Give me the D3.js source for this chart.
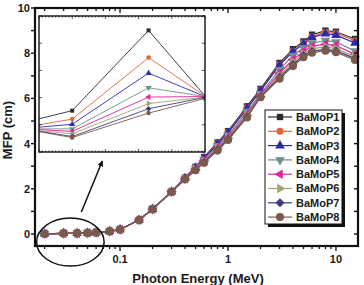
<!DOCTYPE html>
<html>
<head>
<meta charset="utf-8">
<script src="https://cdn.jsdelivr.net/npm/d3@7"></script>
<style>
body { margin: 0; background: #fff; }
text { font-family: "Liberation Sans", Arial, sans-serif; font-weight: bold; fill: #1a1a1a; }
</style>
</head>
<body>
<div id="chart"></div>
<script>
// photon energies (MeV)
var energies = [0.02, 0.03, 0.04, 0.05, 0.06, 0.08, 0.1, 0.15, 0.2, 0.3, 0.4, 0.5, 0.6, 0.8, 1, 1.5, 2, 3, 4, 5, 6, 8, 10, 15];

var names = ["BaMoP1", "BaMoP2", "BaMoP3", "BaMoP4", "BaMoP5", "BaMoP6", "BaMoP7", "BaMoP8"];
var colors = ["#2b2b2b", "#e0643c", "#2a2ab5", "#6f8f8f", "#e0259a", "#a3a374", "#3e3e7c", "#7b5a4c"];

// MFP (cm) for each glass
var mfpP1 = [0.01, 0.03, 0.03, 0.05, 0.07, 0.12, 0.2, 0.62, 1.1, 1.87, 2.5, 2.97, 3.4, 4.05, 4.55, 5.65, 6.42, 7.57, 8.18, 8.52, 8.82, 9.0, 8.95, 8.63];
var mfpP2 = [0.01, 0.03, 0.03, 0.05, 0.07, 0.12, 0.2, 0.62, 1.1, 1.87, 2.48, 2.94, 3.36, 4.0, 4.5, 5.58, 6.36, 7.5, 8.1, 8.45, 8.74, 8.92, 8.88, 8.55];
var mfpP3 = [0.01, 0.03, 0.03, 0.05, 0.07, 0.12, 0.2, 0.62, 1.1, 1.87, 2.47, 2.93, 3.35, 3.98, 4.48, 5.55, 6.33, 7.47, 8.07, 8.41, 8.7, 8.86, 8.8, 8.45];
var mfpP4 = [0.01, 0.03, 0.03, 0.05, 0.07, 0.12, 0.2, 0.62, 1.1, 1.87, 2.46, 2.9, 3.3, 3.9, 4.38, 5.42, 6.2, 7.27, 7.9, 8.24, 8.45, 8.56, 8.5, 8.1];
var mfpP5 = [0.01, 0.03, 0.03, 0.05, 0.07, 0.12, 0.2, 0.62, 1.1, 1.87, 2.45, 2.88, 3.26, 3.84, 4.3, 5.32, 6.14, 7.12, 7.72, 8.08, 8.3, 8.4, 8.34, 7.95];
var mfpP6 = [0.01, 0.03, 0.03, 0.05, 0.07, 0.12, 0.2, 0.62, 1.1, 1.87, 2.44, 2.86, 3.22, 3.8, 4.25, 5.26, 6.1, 7.0, 7.62, 7.98, 8.2, 8.28, 8.2, 7.85];
var mfpP7 = [0.01, 0.03, 0.03, 0.05, 0.07, 0.12, 0.2, 0.62, 1.1, 1.87, 2.43, 2.84, 3.18, 3.74, 4.2, 5.2, 6.07, 6.93, 7.5, 7.9, 8.08, 8.18, 8.1, 7.77];
var mfpP8 = [0.01, 0.03, 0.03, 0.05, 0.07, 0.12, 0.2, 0.62, 1.1, 1.87, 2.42, 2.82, 3.15, 3.69, 4.16, 5.16, 6.05, 6.87, 7.43, 7.82, 8.02, 8.11, 8.04, 7.7];

// zoomed low-energy region (inset), own units
var insetX = [20, 30, 53, 70];
var insetP1 = [1.22, 1.52, 4.47, 2.06];
var insetP2 = [1.0, 1.21, 3.47, 2.06];
var insetP3 = [0.91, 1.02, 2.9, 2.04];
var insetP4 = [0.85, 0.85, 2.36, 2.04];
var insetP5 = [0.82, 0.76, 2.02, 2.04];
var insetP6 = [0.78, 0.67, 1.78, 2.02];
var insetP7 = [0.76, 0.57, 1.59, 2.01];
var insetP8 = [0.75, 0.53, 1.43, 1.97];

var yTicks = [0, 2, 4, 6, 8, 10];
var xTickLabels = [0.1, 1, 10];

var mainSeries = [mfpP1, mfpP2, mfpP3, mfpP4, mfpP5, mfpP6, mfpP7, mfpP8];
var insetSeries = [insetP1, insetP2, insetP3, insetP4, insetP5, insetP6, insetP7, insetP8];

var width = 364, height = 285;
var pLeft = 35, pRight = 358, pTop = 8, pBottom = 246;

var svg = d3.select("#chart").append("svg")
		.attr("width", width)
		.attr("height", height);

var x = d3.scaleLog().domain([0.0163, 16]).range([pLeft, pRight]);
var y = d3.scaleLinear().domain([-0.53, 10]).range([pBottom, pTop]);

// marker shapes: square, circle, tri up, tri down, tri left, tri right, diamond, circle
function symbolFor(i, size) {
	var types = [d3.symbolSquare, d3.symbolCircle, d3.symbolTriangle, d3.symbolTriangle,
		d3.symbolTriangle, d3.symbolTriangle, d3.symbolSquare, d3.symbolCircle];
	var rot = [0, 0, 0, 180, -90, 90, 45, 0];
	return { d: d3.symbol().type(types[i]).size(size)(), rot: rot[i] };
}

var line = d3.line()
		.x(function(d) { return x(d[0]); })
		.y(function(d) { return y(d[1]); });

// main curves
mainSeries.forEach(function(vals, i) {
	var pts = energies.map(function(e, j) { return [e, vals[j]]; });
	svg.append("path")
			.attr("d", line(pts))
			.attr("fill", "none")
			.attr("stroke", colors[i])
			.attr("stroke-width", 1.2);
	var s = symbolFor(i, i == 7 ? 52 : 40);
	svg.selectAll(null)
			.data(pts)
			.enter().append("path")
			.attr("d", s.d)
			.attr("transform", function(d) { return "translate(" + x(d[0]) + "," + y(d[1]) + ") rotate(" + s.rot + ")"; })
			.attr("fill", colors[i]);
});

// main frame + ticks
var minorX = [];
[0.01, 0.1, 1, 10].forEach(function(dec) {
	for (var k = 1; k <= 9; k++) {
		var v = k * dec;
		if (v >= x.domain()[0] && v <= x.domain()[1]) minorX.push(v);
	}
});
var isMajor = function(v) { return xTickLabels.some(function(t) { return Math.abs(t - v) < 1e-9; }); };

var ax = svg.append("g").attr("stroke", "#111").attr("fill", "none");
minorX.forEach(function(v) {
	var len = isMajor(v) ? 5 : 3;
	ax.append("line").attr("x1", x(v)).attr("x2", x(v)).attr("y1", pBottom).attr("y2", pBottom + len).attr("stroke-width", 1.3);
	ax.append("line").attr("x1", x(v)).attr("x2", x(v)).attr("y1", pTop).attr("y2", pTop + len).attr("stroke-width", 1.3);
});
d3.range(0, 11).forEach(function(v) {
	ax.append("line").attr("x1", pLeft - 4).attr("x2", pLeft).attr("y1", y(v)).attr("y2", y(v)).attr("stroke-width", 1.4);
	ax.append("line").attr("x1", pRight - 4).attr("x2", pRight).attr("y1", y(v)).attr("y2", y(v)).attr("stroke-width", 1.4);
});
ax.append("rect")
		.attr("x", pLeft).attr("y", pTop)
		.attr("width", pRight - pLeft).attr("height", pBottom - pTop)
		.attr("stroke-width", 2.2);

svg.selectAll(".ylab")
		.data(yTicks)
		.enter().append("text")
		.attr("x", pLeft - 5)
		.attr("y", function(d) { return y(d); })
		.attr("dy", "0.36em")
		.attr("text-anchor", "end")
		.attr("font-size", 11)
		.text(function(d) { return d; });

svg.selectAll(".xlab")
		.data(xTickLabels)
		.enter().append("text")
		.attr("x", function(d) { return x(d); })
		.attr("y", 263)
		.attr("text-anchor", "middle")
		.attr("font-size", 11)
		.text(function(d) { return d; });

svg.append("text")
		.attr("x", x(1) - 30)
		.attr("y", 283)
		.attr("text-anchor", "middle")
		.attr("font-size", 13)
		.text("Photon Energy (MeV)");

svg.append("text")
		.attr("transform", "translate(12," + 130 + ") rotate(-90)")
		.attr("text-anchor", "middle")
		.attr("font-size", 13)
		.text("MFP (cm)");

// ellipse round the low-energy points + arrow to the inset
var ex0 = x(energies[0]), ex1 = x(energies[4]);
var ecx = (ex0 + ex1) / 2, ecy = y(0) + 8;
var erx = (ex1 - ex0) / 2 + 8, ery = 24;
svg.append("ellipse")
		.attr("cx", ecx).attr("cy", ecy)
		.attr("rx", erx).attr("ry", ery)
		.attr("fill", "none")
		.attr("stroke", "#111")
		.attr("stroke-width", 1.5);

// inset
var ix0 = 39, ix1 = 205, iy0 = 16, iy1 = 152;
var ix = d3.scaleLinear().domain([20, 70]).range([ix0, ix1]);
var iy = d3.scaleLinear().domain([0, 5]).range([iy1, iy0]);

svg.append("defs").append("marker")
		.attr("id", "arrow")
		.attr("viewBox", "0 0 10 10")
		.attr("refX", 9).attr("refY", 5)
		.attr("markerWidth", 6).attr("markerHeight", 6)
		.attr("markerUnits", "userSpaceOnUse")
		.attr("orient", "auto")
		.append("path").attr("d", "M0,0L10,5L0,10Z").attr("fill", "#111");

svg.append("line")
		.attr("x1", ecx + 11).attr("y1", ecy - ery - 6)
		.attr("x2", ecx + 32).attr("y2", iy1 + 9)
		.attr("stroke", "#111")
		.attr("stroke-width", 1.5)
		.attr("marker-end", "url(#arrow)");

svg.select("defs").append("clipPath").attr("id", "insetClip")
		.append("rect").attr("x", ix0).attr("y", iy0).attr("width", ix1 - ix0).attr("height", iy1 - iy0);

svg.append("rect")
		.attr("x", ix0).attr("y", iy0)
		.attr("width", ix1 - ix0).attr("height", iy1 - iy0)
		.attr("fill", "#fff");

var ig = svg.append("g").attr("clip-path", "url(#insetClip)");
var iline = d3.line()
		.x(function(d) { return ix(d[0]); })
		.y(function(d) { return iy(d[1]); });

insetSeries.forEach(function(vals, i) {
	var pts = insetX.map(function(e, j) { return [e, vals[j]]; });
	ig.append("path")
			.attr("d", iline(pts))
			.attr("fill", "none")
			.attr("stroke", colors[i])
			.attr("stroke-width", 0.9);
	var s = symbolFor(i, 16);
	ig.selectAll(null)
			.data(pts.slice(1))
			.enter().append("path")
			.attr("d", s.d)
			.attr("transform", function(d) { return "translate(" + ix(d[0]) + "," + iy(d[1]) + ") rotate(" + s.rot + ")"; })
			.attr("fill", colors[i]);
});

var it = svg.append("g").attr("stroke", "#222").attr("fill", "none");
ix.ticks(50).forEach(function(v) {
	var len = (v % 10 == 0) ? 3 : 1.5;
	it.append("line").attr("x1", ix(v)).attr("x2", ix(v)).attr("y1", iy1).attr("y2", iy1 - len).attr("stroke-width", 0.8);
	it.append("line").attr("x1", ix(v)).attr("x2", ix(v)).attr("y1", iy0).attr("y2", iy0 + len).attr("stroke-width", 0.8);
});
iy.ticks(5).forEach(function(v) {
	it.append("line").attr("x1", ix0).attr("x2", ix0 + 3).attr("y1", iy(v)).attr("y2", iy(v)).attr("stroke-width", 0.8);
	it.append("line").attr("x1", ix1 - 3).attr("x2", ix1).attr("y1", iy(v)).attr("y2", iy(v)).attr("stroke-width", 0.8);
});
it.append("rect")
		.attr("x", ix0).attr("y", iy0)
		.attr("width", ix1 - ix0).attr("height", iy1 - iy0)
		.attr("stroke", "#111")
		.attr("stroke-width", 1.4);

// legend with drop shadow
var lx = 265, ly = 110, lw = 77, lh = 114, step = 14.3;
svg.append("rect").attr("x", lx + 3).attr("y", ly + 3).attr("width", lw).attr("height", lh).attr("fill", "#111");
svg.append("rect").attr("x", lx).attr("y", ly).attr("width", lw).attr("height", lh)
		.attr("fill", "#fff").attr("stroke", "#111").attr("stroke-width", 1);

var leg = svg.selectAll(".leg")
		.data(names)
		.enter().append("g")
		.attr("transform", function(d, i) { return "translate(" + lx + "," + (ly + 7 + i * step) + ")"; });

leg.append("line")
		.attr("x1", 3).attr("x2", 27)
		.attr("stroke", function(d, i) { return colors[i]; })
		.attr("stroke-width", 1.2);
leg.append("path")
		.attr("d", function(d, i) { return symbolFor(i, i == 7 ? 52 : 40).d; })
		.attr("transform", function(d, i) { return "translate(15,0) rotate(" + symbolFor(i, 40).rot + ")"; })
		.attr("fill", function(d, i) { return colors[i]; });
leg.append("text")
		.attr("x", 31)
		.attr("dy", "0.36em")
		.attr("font-size", 11)
		.text(function(d) { return d; });
</script>
</body>
</html>
